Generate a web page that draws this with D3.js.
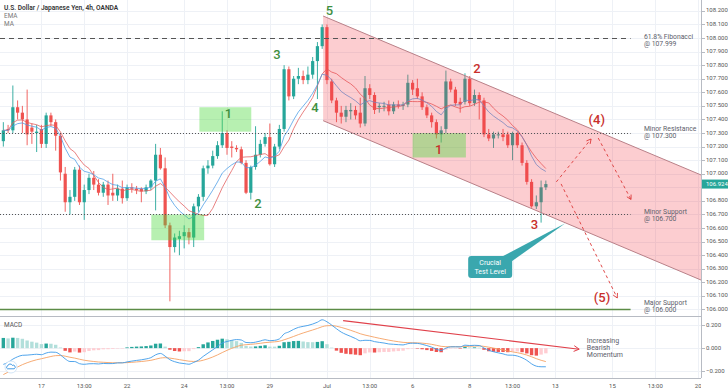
<!DOCTYPE html>
<html lang="en">
<head>
<meta charset="utf-8">
<title>USD/JPY 4h | Descending channel</title>
<script src="https://cdn.jsdelivr.net/npm/d3@7/dist/d3.min.js"></script>
<style>
  body { margin: 0; background: #fff; }
  svg { display: block; font-family: Roboto, "Open Sans", Arial, sans-serif; }
</style>
</head>
<body>
<svg id="chart" width="728" height="391"></svg>
<script>

/////////////////////
// Data

// 4h candles, [open, high, low, close]
var candles = [
  [107.24,107.38,107.20,107.32],[107.33,107.36,107.30,107.32],[107.32,107.65,107.30,107.49],[107.49,107.54,107.40,107.45],
  [107.45,107.50,107.30,107.40],[107.40,107.62,107.21,107.29],[107.34,107.37,107.22,107.31],[107.30,107.36,107.16,107.31],
  [107.33,107.36,107.19,107.22],[107.22,107.45,107.19,107.43],[107.43,107.45,107.35,107.38],[107.38,107.40,107.17,107.28],
  [107.28,107.30,106.95,107.01],[107.00,107.05,106.72,106.79],[106.79,106.88,106.70,106.83],[106.83,107.05,106.80,107.03],
  [107.03,107.06,106.77,106.79],[106.79,106.92,106.66,106.88],[106.88,107.00,106.85,106.97],[106.97,107.02,106.88,106.92],
  [106.92,106.96,106.84,106.86],[106.86,106.94,106.83,106.92],[106.92,106.95,106.77,106.84],[106.86,107.00,106.80,106.84],
  [106.84,106.92,106.80,106.89],[106.89,106.95,106.78,106.82],[106.82,106.92,106.80,106.90],[106.90,106.93,106.86,106.89],
  [106.89,106.91,106.85,106.88],[106.89,106.90,106.79,106.87],[106.87,106.92,106.85,106.90],[106.90,106.96,106.88,106.95],
  [106.95,107.22,106.73,107.14],[107.14,107.19,107.03,107.04],[107.04,107.12,106.60,106.62],[106.62,106.64,106.06,106.46],
  [106.46,106.56,106.42,106.53],[106.52,106.58,106.40,106.54],[106.54,106.62,106.45,106.57],[106.57,106.60,106.48,106.53],
  [106.53,106.78,106.46,106.76],[106.76,106.85,106.72,106.83],[106.83,107.06,106.80,107.04],[107.04,107.10,107.00,107.06],
  [107.06,107.17,107.04,107.13],[107.13,107.24,107.11,107.21],[107.21,107.46,107.19,107.30],[107.30,107.32,107.14,107.19],
  [107.20,107.24,107.12,107.19],[107.19,107.21,107.16,107.18],[107.18,107.20,107.07,107.08],[107.08,107.10,106.85,106.86],
  [106.86,107.06,106.81,107.05],[107.05,107.35,107.03,107.14],[107.14,107.25,107.12,107.22],[107.22,107.30,107.20,107.27],
  [107.27,107.37,107.06,107.07],[107.07,107.22,107.05,107.20],[107.20,107.36,107.18,107.33],[107.33,107.80,107.31,107.77],
  [107.77,107.79,107.54,107.57],[107.57,107.72,107.55,107.70],[107.70,107.78,107.66,107.72],[107.72,107.76,107.66,107.69],
  [107.69,107.79,107.66,107.73],[107.73,107.86,107.70,107.83],[107.83,107.97,107.55,107.94],[107.94,108.10,107.92,108.08],
  [108.08,108.10,107.66,107.69],[107.68,107.70,107.52,107.54],[107.54,107.56,107.38,107.45],[107.45,107.50,107.37,107.42],
  [107.42,107.50,107.38,107.47],[107.46,107.52,107.40,107.47],[107.47,107.50,107.40,107.43],[107.45,107.56,107.34,107.37],
  [107.37,107.72,107.35,107.63],[107.63,107.66,107.55,107.58],[107.58,107.60,107.44,107.47],[107.49,107.52,107.45,107.50],
  [107.50,107.53,107.46,107.50],[107.51,107.54,107.43,107.46],[107.46,107.53,107.44,107.51],[107.51,107.54,107.48,107.50],
  [107.50,107.53,107.47,107.51],[107.51,107.73,107.49,107.67],[107.67,107.69,107.58,107.62],[107.63,107.70,107.55,107.57],
  [107.57,107.60,107.47,107.49],[107.49,107.51,107.41,107.43],[107.43,107.45,107.34,107.38],[107.38,107.40,107.26,107.29],
  [107.29,107.35,107.23,107.32],[107.33,107.76,107.30,107.68],[107.68,107.70,107.60,107.62],[107.62,107.64,107.50,107.52],
  [107.53,107.56,107.45,107.51],[107.53,107.74,107.51,107.70],[107.70,107.72,107.50,107.52],[107.52,107.62,107.50,107.58],
  [107.58,107.60,107.40,107.54],[107.54,107.56,107.27,107.29],[107.29,107.33,107.24,107.26],[107.26,107.31,107.19,107.29],
  [107.29,107.31,107.26,107.29],[107.29,107.33,107.24,107.27],[107.29,107.31,107.19,107.21],[107.21,107.31,107.10,107.30],
  [107.30,107.31,107.19,107.21],[107.21,107.23,107.06,107.08],[107.08,107.10,106.92,106.94],[106.94,106.96,106.75,106.76],
  [106.76,106.84,106.74,106.79],[106.79,106.95,106.64,106.90],[106.90,106.95,106.88,106.924]
];

// time axis: candle index of each label
var timeTicks = [8, 17, 26, 38, 47, 56, 68, 77, 86, 98, 107, 116, 128, 137, 146];
var timeLabels = ["17", "13:00", "22", "24", "13:00", "29", "Jul", "13:00", "6", "8", "13:00", "13", "15", "13:00", "20"];

var priceTicks = d3.range(0, 23).map(function(i) { return 106 + i / 10; });
var macdTicks = [0.2, 0, -0.2];
var lastPrice = 106.924;

var levelPrices = [107.999, 107.300, 106.700, 106.000];
var levelNames = ["61.8% Fibonacci", "Minor Resistance", "Minor Support", "Major Support"];

// descending channel, [candle index, price]
var channelUpper = [[67.2, 108.162], [146.6, 106.991]];
var channelLower = [[67.2, 107.391], [146.6, 106.217]];

// highlighted zones, [from index, to index, top price, bottom price]
var zoneBoxes = [[41.2, 52.1, 107.49, 107.31], [31.1, 42.2, 106.70, 106.51], [86.0, 97.2, 107.30, 107.12]];

var greenWaves = ["1", "2", "3", "4", "5"];
var greenWaveAt = [[47.3, 107.411], [53.5, 106.746], [57.5, 107.843], [65.5, 107.453], [68.5, 108.169]];
var redWaves = ["1", "2", "3", "(4)", "(5)"];
var redWaveAt = [[91.5, 107.145], [99.5, 107.74], [111.6, 106.593], [124.7, 107.366], [125.8, 106.055]];

// projected paths
var projections = [
  [[116.2, 106.94], [123.5, 107.256]],
  [[125.0, 107.263], [131.9, 106.81]],
  [[117.2, 106.925], [129.0, 106.085]]
];

var calloutTip = [118.1, 106.635], calloutAt = [102.3, 106.313];
var calloutText = ["Crucial", "Test Level"];

var momentumArrow = [[71.4, 0.237], [121, -0.009]];
var momentumText = ["Increasing", "Bearish", "Momentum"];

// indicator settings
var emaLen = 10, maLen = 10;
var macdSeed = [107.22, 107.38, -0.25];   // fast ema, slow ema, signal before first bar

/////////////////////
// Indicators
var closes = candles.map(function(d) { return d[3]; });

var ema = [], ma = [];
closes.forEach(function(c, i) {
  var k = 2 / (emaLen + 1);
  ema.push(i === 0 ? c : c * k + ema[i - 1] * (1 - k));
  var win = closes.slice(Math.max(0, i - maLen + 1), i + 1);
  ma.push(d3.mean(win));
});

var macd = [], signal = [], hist = [];
var e12 = macdSeed[0], e26 = macdSeed[1], sig = macdSeed[2];
closes.forEach(function(c) {
  e12 = c * 2 / 13 + e12 * 11 / 13;
  e26 = c * 2 / 27 + e26 * 25 / 27;
  var m = e12 - e26;
  sig = m * 0.2 + sig * 0.8;
  macd.push(m); signal.push(sig); hist.push(m - sig);
});

/////////////////////
// Layout
var svg = d3.select("#chart");
var paneRight = 701, mainBottom = 316, macdBottom = 378;

var x = d3.scaleLinear().domain([-0.7, 146.6]).range([0, paneRight]);
var y = d3.scaleLinear().domain([105.952, 108.28]).range([mainBottom, 0]);
var yM = d3.scaleLinear().domain([-0.2575, 0.277]).range([macdBottom, mainBottom]);

var up = "#26a69a", down = "#ef5350";

var defs = svg.append("defs");
defs.append("clipPath").attr("id", "clipMain")
  .append("rect").attr("x", 0).attr("y", 0).attr("width", paneRight).attr("height", mainBottom);
defs.append("clipPath").attr("id", "clipMacd")
  .append("rect").attr("x", 0).attr("y", mainBottom).attr("width", paneRight).attr("height", macdBottom - mainBottom);

// grid
var grid = svg.append("g").attr("stroke", "#eef1f6").attr("shape-rendering", "crispEdges");
grid.selectAll(".gv").data(timeTicks).join("line")
  .attr("x1", function(d) { return Math.round(x(d)) + 0.5; })
  .attr("x2", function(d) { return Math.round(x(d)) + 0.5; })
  .attr("y1", 0).attr("y2", macdBottom);
grid.selectAll(".gh").data(priceTicks).join("line")
  .attr("x1", 0).attr("x2", paneRight)
  .attr("y1", function(d) { return Math.round(y(d)) + 0.5; })
  .attr("y2", function(d) { return Math.round(y(d)) + 0.5; });
grid.selectAll(".gm").data(macdTicks).join("line")
  .attr("x1", 0).attr("x2", paneRight)
  .attr("y1", function(d) { return Math.round(yM(d)) + 0.5; })
  .attr("y2", function(d) { return Math.round(yM(d)) + 0.5; });

/////////////////////
// Main pane
var main = svg.append("g").attr("clip-path", "url(#clipMain)");

var cg = main.append("g").selectAll("g").data(candles).join("g")
  .attr("fill", function(d) { return d[3] >= d[0] ? up : down; })
  .attr("stroke", function(d) { return d[3] >= d[0] ? up : down; });
cg.append("line")
  .attr("x1", function(d, i) { return x(i); }).attr("x2", function(d, i) { return x(i); })
  .attr("y1", function(d) { return y(d[1]); }).attr("y2", function(d) { return y(d[2]); })
  .attr("stroke-width", 0.9);
cg.append("rect")
  .attr("stroke", "none")
  .attr("x", function(d, i) { return x(i) - 1.6; })
  .attr("width", 3.2)
  .attr("y", function(d) { return y(Math.max(d[0], d[3])); })
  .attr("height", function(d) { return Math.max(1, Math.abs(y(d[0]) - y(d[3]))); });

var line = d3.line().x(function(d, i) { return x(i); }).y(function(d) { return y(d); });
main.append("path").datum(ma).attr("d", line)
  .attr("fill", "none").attr("stroke", "#e25b5b").attr("stroke-width", 0.9).attr("opacity", 0.85);
main.append("path").datum(ema).attr("d", line)
  .attr("fill", "none").attr("stroke", "#4a9de6").attr("stroke-width", 0.9).attr("opacity", 0.85);

// channel
var chPts = [channelUpper[0], channelUpper[1], channelLower[1], channelLower[0]];
main.append("polygon")
  .attr("points", chPts.map(function(p) { return x(p[0]) + "," + y(p[1]); }).join(" "))
  .attr("fill", "rgba(242,54,69,0.25)");
[channelUpper, channelLower].forEach(function(l) {
  main.append("line")
    .attr("x1", x(l[0][0])).attr("y1", y(l[0][1])).attr("x2", x(l[1][0])).attr("y2", y(l[1][1]))
    .attr("stroke", "#b98088").attr("stroke-width", 1);
});

// zones
main.selectAll(".zone").data(zoneBoxes).join("rect")
  .attr("x", function(d) { return x(d[0]); })
  .attr("width", function(d) { return x(d[1]) - x(d[0]); })
  .attr("y", function(d) { return y(d[2]); })
  .attr("height", function(d) { return y(d[3]) - y(d[2]); })
  .attr("fill", "rgba(76,217,60,0.4)");

// horizontal levels
var lineEnd = 131.8, labelAt = 134.6;
var levelStyle = [
  {stroke: "#555", dash: "5,4", width: 1, dy: -1},
  {stroke: "#555", dash: "1,2", width: 1, dy: -4},
  {stroke: "#555", dash: "1,2", width: 1, dy: -2.5},
  {stroke: "#5b8c46", dash: null, width: 1.6, dy: -6.5}
];
levelPrices.forEach(function(p, i) {
  var s = levelStyle[i];
  main.append("line")
    .attr("x1", 0).attr("x2", x(lineEnd))
    .attr("y1", Math.round(y(p)) + 0.5).attr("y2", Math.round(y(p)) + 0.5)
    .attr("stroke", s.stroke).attr("stroke-width", s.width)
    .attr("stroke-dasharray", s.dash);
  [levelNames[i], "@ " + d3.format(".3f")(p)].forEach(function(txt, j) {
    main.append("text").attr("x", x(labelAt)).attr("y", y(p) + s.dy + j * 7.4)
      .attr("font-size", 6.8).attr("fill", "#5d606b").attr("dominant-baseline", "middle")
      .text(txt);
  });
});

// projected paths
function arrowHead(g, p0, p1, color, len) {
  var a = Math.atan2(p1[1] - p0[1], p1[0] - p0[0]);
  [-0.5, 0.5].forEach(function(o) {
    g.append("line")
      .attr("x1", p1[0]).attr("y1", p1[1])
      .attr("x2", p1[0] - len * Math.cos(a + o)).attr("y2", p1[1] - len * Math.sin(a + o))
      .attr("stroke", color).attr("stroke-width", 1);
  });
}
projections.forEach(function(pr) {
  var a = [x(pr[0][0]), y(pr[0][1])], b = [x(pr[1][0]), y(pr[1][1])];
  main.append("line")
    .attr("x1", a[0]).attr("y1", a[1]).attr("x2", b[0]).attr("y2", b[1])
    .attr("stroke", "#e04848").attr("stroke-width", 1).attr("stroke-dasharray", "3,3");
  arrowHead(main, a, b, "#e04848", 5);
});

// wave counts
main.selectAll(".gw").data(greenWaves).join("text")
  .attr("x", function(d, i) { return x(greenWaveAt[i][0]); })
  .attr("y", function(d, i) { return y(greenWaveAt[i][1]); })
  .attr("text-anchor", "middle").attr("font-size", 13).attr("font-weight", 500)
  .attr("fill", "#3f8f3f").text(function(d) { return d; });
main.selectAll(".rw").data(redWaves).join("text")
  .attr("x", function(d, i) { return x(redWaveAt[i][0]); })
  .attr("y", function(d, i) { return y(redWaveAt[i][1]); })
  .attr("text-anchor", "middle").attr("font-size", 13).attr("font-weight", 500)
  .attr("fill", "#c9302c").text(function(d) { return d; });

// callout
var cx = x(calloutAt[0]), cy = y(calloutAt[1]);
var tip = [x(calloutTip[0]), y(calloutTip[1])];
main.append("polygon")
  .attr("points", [tip, [cx + 13, cy - 11], [cx + 22, cy - 6]].map(function(p) { return p.join(","); }).join(" "))
  .attr("fill", "#3aa7ae");
main.append("rect")
  .attr("x", cx - 22).attr("y", cy - 11).attr("width", 44).attr("height", 22).attr("rx", 3)
  .attr("fill", "#3aa7ae");
calloutText.forEach(function(s, i) {
  main.append("text").attr("x", cx).attr("y", cy - 3.5 + i * 8.5)
    .attr("text-anchor", "middle").attr("dominant-baseline", "middle")
    .attr("font-size", 7).attr("fill", "#fff").text(s);
});

// titles
svg.append("text").attr("x", 4).attr("y", 9.5).attr("font-size", 6.6).attr("font-weight", 600)
  .attr("fill", "#333").text("U.S. Dollar / Japanese Yen, 4h, OANDA");
svg.append("text").attr("x", 4).attr("y", 17.8).attr("font-size", 6.4).attr("fill", "#777").text("EMA");
svg.append("text").attr("x", 4).attr("y", 26).attr("font-size", 6.4).attr("fill", "#777").text("MA");

/////////////////////
// MACD pane
var mp = svg.append("g").attr("clip-path", "url(#clipMacd)");

mp.selectAll(".hb").data(hist).join("rect")
  .attr("x", function(d, i) { return x(i) - 1.7; })
  .attr("width", 3.4)
  .attr("y", function(d) { return Math.min(yM(0), yM(d)); })
  .attr("height", function(d) { return Math.max(0.5, Math.abs(yM(d) - yM(0))); })
  .attr("fill", function(d, i) {
    var prev = i > 0 ? hist[i - 1] : d;
    if (d >= 0) return d >= prev ? "#26a69a" : "#b2dfdb";
    return d >= prev ? "#ffcdd2" : "#ef5350";
  });

var mline = d3.line().curve(d3.curveMonotoneX)
  .x(function(d, i) { return x(i); }).y(function(d) { return yM(d); });
mp.append("path").datum(signal).attr("d", mline)
  .attr("fill", "none").attr("stroke", "#f5a164").attr("stroke-width", 0.9);
mp.append("path").datum(macd).attr("d", mline)
  .attr("fill", "none").attr("stroke", "#3d9be9").attr("stroke-width", 0.9);

var ma0 = [x(momentumArrow[0][0]), yM(momentumArrow[0][1])];
var ma1 = [x(momentumArrow[1][0]), yM(momentumArrow[1][1])];
mp.append("line").attr("x1", ma0[0]).attr("y1", ma0[1]).attr("x2", ma1[0]).attr("y2", ma1[1])
  .attr("stroke", "#e0404a").attr("stroke-width", 1.1);
arrowHead(mp, ma0, ma1, "#e0404a", 6);
momentumText.forEach(function(s, i) {
  mp.append("text").attr("x", x(122.6)).attr("y", yM(0.06) + i * 7.2)
    .attr("dominant-baseline", "middle").attr("font-size", 7).attr("fill", "#5d606b").text(s);
});

svg.append("text").attr("x", 4).attr("y", 327).attr("font-size", 6.4).attr("fill", "#555").text("MACD");

// tradingview badge
var badge = svg.append("g").attr("transform", "translate(11,367)");
badge.append("circle").attr("r", 6).attr("fill", "#fff").attr("stroke", "#d3e6f8");
badge.append("path").attr("d", "M-3.5,1.8 a1.6,1.6 0 0 1 0.3,-3 a2.4,2.4 0 0 1 4.5,-0.4 a1.7,1.7 0 0 1 1.9,3.4 z")
  .attr("fill", "none").attr("stroke", "#2f8fe0").attr("stroke-width", 0.9);

/////////////////////
// Axes
var sep = svg.append("g").attr("stroke", "#b7bbc3").attr("shape-rendering", "crispEdges");
sep.append("line").attr("x1", 0).attr("x2", paneRight).attr("y1", mainBottom + 0.5).attr("y2", mainBottom + 0.5);
sep.append("line").attr("x1", 0).attr("x2", paneRight).attr("y1", macdBottom + 0.5).attr("y2", macdBottom + 0.5);
sep.append("line").attr("x1", paneRight + 0.5).attr("x2", paneRight + 0.5).attr("y1", 0).attr("y2", macdBottom);

// price labels, skipping the one hidden under the last price tag
var shownTicks = priceTicks.filter(function(d) { return Math.abs(y(d) - y(lastPrice)) > 6; });
var ax = svg.append("g").attr("font-size", 6).attr("fill", "#555");
ax.selectAll(".pt").data(shownTicks).join("text")
  .attr("x", 706).attr("y", function(d) { return y(d); }).attr("dominant-baseline", "middle")
  .text(function(d) { return d3.format(".3f")(d); });
ax.selectAll(".pk").data(priceTicks).join("line")
  .attr("x1", paneRight + 1).attr("x2", paneRight + 4)
  .attr("y1", function(d) { return Math.round(y(d)) + 0.5; })
  .attr("y2", function(d) { return Math.round(y(d)) + 0.5; })
  .attr("stroke", "#b7bbc3");
ax.selectAll(".mt").data(macdTicks).join("text")
  .attr("x", 706).attr("y", function(d) { return yM(d); }).attr("dominant-baseline", "middle")
  .text(function(d) { return d3.format(".3f")(d); });
ax.selectAll(".mk").data(macdTicks).join("line")
  .attr("x1", paneRight + 1).attr("x2", paneRight + 4)
  .attr("y1", function(d) { return Math.round(yM(d)) + 0.5; })
  .attr("y2", function(d) { return Math.round(yM(d)) + 0.5; })
  .attr("stroke", "#b7bbc3");

// last price tag
svg.append("rect").attr("x", paneRight + 1).attr("y", y(lastPrice) - 4.5).attr("width", 26).attr("height", 9)
  .attr("fill", "#26a69a");
svg.append("text").attr("x", 706).attr("y", y(lastPrice)).attr("dominant-baseline", "middle")
  .attr("font-size", 6).attr("fill", "#fff").text(d3.format(".3f")(lastPrice));

// time labels
defs.append("clipPath").attr("id", "clipTime")
  .append("rect").attr("x", 0).attr("y", macdBottom).attr("width", paneRight).attr("height", 13);
svg.append("g").attr("clip-path", "url(#clipTime)").selectAll("text").data(timeTicks).join("text")
  .attr("x", function(d) { return x(d); }).attr("y", 386)
  .attr("text-anchor", "middle").attr("dominant-baseline", "middle")
  .attr("font-size", 6).attr("fill", "#555")
  .text(function(d, i) { return timeLabels[i]; });

</script>
</body>
</html>
